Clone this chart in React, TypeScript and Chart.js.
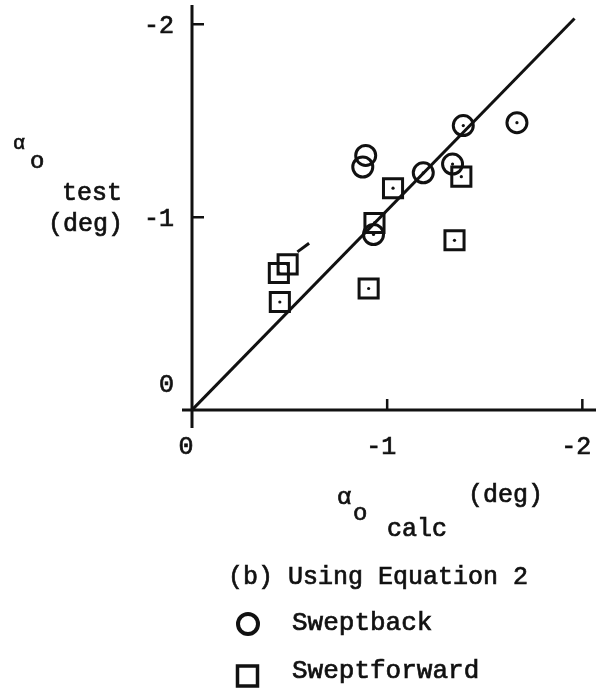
import React, { useEffect, useRef } from "react";
import { Chart, registerables } from "chart.js";

Chart.register(...registerables);

// Zero-lift angle: calculated vs. test (deg)
const sweptbackCalc = [-1.39, -1.665, -0.89, -0.875, -1.185, -1.335, -0.93];
const sweptbackTest = [-1.475, -1.49, -1.32, -1.26, -1.23, -1.275, -0.91];
const sweptbackCentreDot = [true, true, false, false, true, true, true];

const sweptforwardCalc = [-1.03, -1.38, -0.935, -1.345, -0.905, -0.49, -0.445, -0.45];
const sweptforwardTest = [-1.15, -1.21, -0.97, -0.88, -0.63, -0.755, -0.71, -0.56];

// Line of agreement and the short flag on one symbol
const agreementCalc = [0, -1.96];
const agreementTest = [0, -2.03];
const flagCalc = [-0.54, -0.6];
const flagTest = [-0.82, -0.865];

const xTickValues = [0, -1, -2];
const xTickLabels = ["0", "-1", "-2"];
const yTickValues = [0, -1, -2];
const yTickLabels = ["0", "-1", "-2"];

const captionText = "(b) Using Equation 2";
const seriesNames = ["Sweptback", "Sweptforward"];

const FONT = '"Liberation Mono", "DejaVu Sans Mono", monospace';
const INK = "#111";

const toPoints = (xs: number[], ys: number[]) => xs.map((x, i) => ({ x, y: ys[i] }));

// typewritten text: filled and lightly stroked for a heavier ink
function typeText(ctx: CanvasRenderingContext2D, text: string, x: number, y: number) {
  ctx.fillText(text, x, y);
  ctx.strokeText(text, x, y);
}

const axesPlugin = {
  id: "typedAxes",
  afterDatasetsDraw(chart: any) {
    const { ctx, chartArea, scales } = chart;
    const xs = scales.x;
    const ys = scales.y;
    const ox = xs.getPixelForValue(0);
    const oy = ys.getPixelForValue(0);

    ctx.save();
    ctx.strokeStyle = INK;
    ctx.fillStyle = INK;
    ctx.lineCap = "butt";

    // axis lines (crossing slightly past the origin)
    ctx.lineWidth = 3;
    ctx.beginPath();
    ctx.moveTo(ox, chartArea.top);
    ctx.lineTo(ox, oy + 18);
    ctx.moveTo(ox - 10, oy);
    ctx.lineTo(chartArea.right, oy);
    ctx.stroke();

    // inward tick marks
    ctx.lineWidth = 2.5;
    ctx.beginPath();
    xTickValues.forEach((v) => {
      if (v === 0) return;
      const px = xs.getPixelForValue(v);
      ctx.moveTo(px, oy);
      ctx.lineTo(px, oy - 11);
    });
    yTickValues.forEach((v) => {
      if (v === 0) return;
      const py = ys.getPixelForValue(v);
      ctx.moveTo(ox, py);
      ctx.lineTo(ox + 12, py);
    });
    ctx.stroke();

    ctx.lineWidth = 0.7;
    ctx.font = `25px ${FONT}`;
    ctx.textBaseline = "middle";

    // x tick labels
    ctx.textAlign = "center";
    xTickValues.forEach((v, i) => {
      const px = xs.getPixelForValue(v);
      typeText(ctx, xTickLabels[i], px - 6, oy + 37);
    });

    // y tick labels (zero sits above the x axis)
    ctx.textAlign = "right";
    yTickValues.forEach((v, i) => {
      const py = ys.getPixelForValue(v);
      const y = v === 0 ? py - 25 : py + 2;
      typeText(ctx, yTickLabels[i], ox - 18, y);
    });

    // y axis title
    ctx.textAlign = "left";
    ctx.font = `20px ${FONT}`;
    typeText(ctx, "α", ox - 179, chartArea.top + 139);
    ctx.font = `24px ${FONT}`;
    typeText(ctx, "o", ox - 162, chartArea.top + 157);
    ctx.font = `25px ${FONT}`;
    typeText(ctx, "test", ox - 130, chartArea.top + 188);
    typeText(ctx, "(deg)", ox - 144, chartArea.top + 219);

    // x axis title
    ctx.font = `24px ${FONT}`;
    typeText(ctx, "α", ox + 145, oy + 88);
    typeText(ctx, "o", ox + 161, oy + 104);
    ctx.font = `25px ${FONT}`;
    typeText(ctx, "calc", ox + 195, oy + 119);
    typeText(ctx, "(deg)", ox + 276, oy + 85);

    // caption and key
    typeText(ctx, captionText, ox + 36, oy + 167);
    ctx.font = `26px ${FONT}`;
    typeText(ctx, seriesNames[0], ox + 100, oy + 213);
    typeText(ctx, seriesNames[1], ox + 100, oy + 261);

    ctx.lineWidth = 4;
    ctx.beginPath();
    ctx.arc(ox + 56, oy + 214, 10, 0, Math.PI * 2);
    ctx.stroke();
    ctx.lineWidth = 3.5;
    ctx.strokeRect(ox + 45.5, oy + 256, 20, 20);

    ctx.restore();
  },
};

export default function App() {
  const canvasRef = useRef<HTMLCanvasElement | null>(null);

  useEffect(() => {
    const canvas = canvasRef.current;
    if (!canvas) return;

    const sweptback = toPoints(sweptbackCalc, sweptbackTest);
    const sweptforward = toPoints(sweptforwardCalc, sweptforwardTest);
    const centreDots = [
      ...sweptback.filter((_, i) => sweptbackCentreDot[i]),
      ...sweptforward,
    ];

    const chart = new Chart(canvas, {
      type: "scatter",
      data: {
        datasets: [
          {
            label: "agreement",
            data: toPoints(agreementCalc, agreementTest),
            showLine: true,
            borderColor: INK,
            borderWidth: 3,
            pointRadius: 0,
          },
          {
            label: "flag",
            data: toPoints(flagCalc, flagTest),
            showLine: true,
            borderColor: INK,
            borderWidth: 3,
            pointRadius: 0,
          },
          {
            label: seriesNames[0],
            data: sweptback,
            pointStyle: "circle",
            pointRadius: 10,
            borderWidth: 3,
            borderColor: INK,
            backgroundColor: "rgba(0,0,0,0)",
          },
          {
            label: seriesNames[1],
            data: sweptforward,
            pointStyle: "rect",
            pointRadius: 13.5,
            borderWidth: 3,
            borderColor: INK,
            backgroundColor: "rgba(0,0,0,0)",
          },
          {
            label: "centres",
            data: centreDots,
            pointStyle: "circle",
            pointRadius: 1.6,
            borderWidth: 0,
            backgroundColor: INK,
          },
        ],
      },
      options: {
        responsive: false,
        animation: false,
        events: [],
        layout: { autoPadding: false, padding: { left: 192, top: 5, right: 0, bottom: 281 } },
        plugins: { legend: { display: false }, tooltip: { enabled: false } },
        scales: {
          x: { type: "linear", display: false, reverse: true, min: -2.07, max: 0 },
          y: { type: "linear", display: false, reverse: true, min: -2.1, max: 0 },
        },
      },
      plugins: [axesPlugin],
    });

    return () => chart.destroy();
  }, []);

  return (
    <div style={{ position: "fixed", left: 0, top: 0, width: 596, height: 691, background: "#fff" }}>
      <canvas ref={canvasRef} width={596} height={691} />
    </div>
  );
}
